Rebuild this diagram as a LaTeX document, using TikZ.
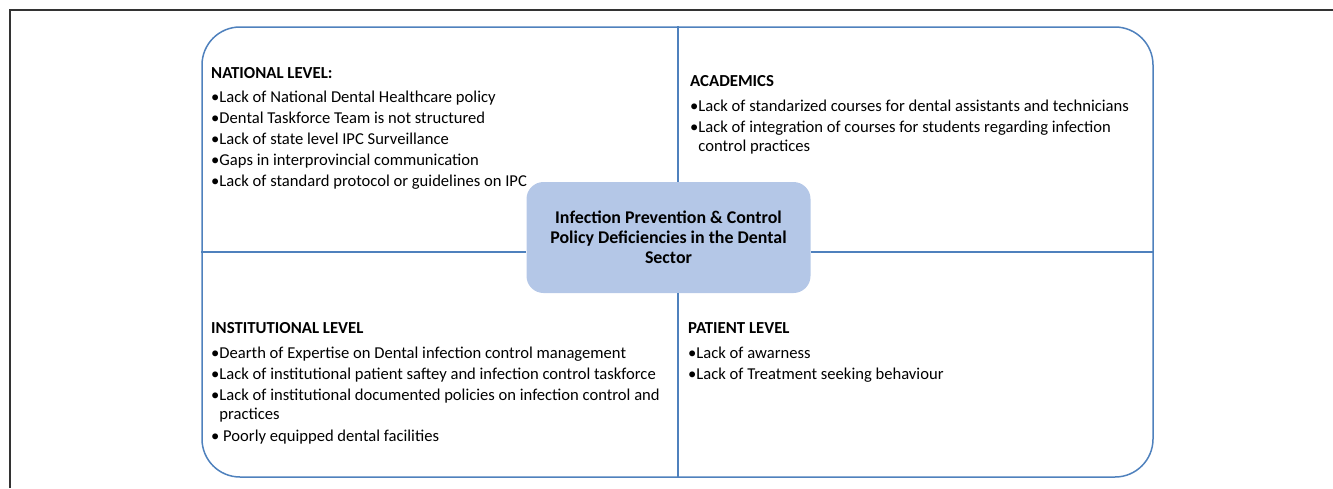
\documentclass[tikz,border=0pt]{standalone}
\usepackage{fontspec}
\setmainfont{Carlito}
\definecolor{frameblue}{HTML}{4F81BD}
\definecolor{hubfill}{HTML}{B4C7E7}
\tikzset{
  head/.style={anchor=base west, inner sep=0pt, font=\fontsize{16.8}{19}\selectfont\bfseries},
  item/.style={anchor=base west, inner sep=0pt, font=\fontsize{16.6}{19}\selectfont},
  divider/.style={frameblue, line width=1.2pt},
  hub/.style={fill=hubfill, rounded corners=17pt, minimum width=284pt, minimum height=111pt,
    align=center, inner sep=0pt, font=\fontsize{17.9}{20}\selectfont\bfseries}
}
\begin{document}
\begin{tikzpicture}[x=1pt,y=-1pt]
    \useasboundingbox (0,0) rectangle (1333,488);
    \draw[line width=1.5pt, black!80] (10,488) -- (10,10) -- (1333,10);
    \node[draw=frameblue, line width=1.5pt, rounded corners=38pt, minimum width=951pt, minimum height=450pt] (frame) at (677.5,252) {};

    \node[hub] (hub) at (668.5,237.5) {Infection Prevention \& Control\\Policy Deficiencies in the Dental\\Sector};
    \draw[divider] (frame.north -| 678,0) -- (hub.north -| 678,0);
    \draw[divider] (hub.south -| 678,0) -- (frame.south -| 678,0);
    \draw[divider] (frame.west |- 0,252) -- (hub.west |- 0,252);
    \draw[divider] (hub.east |- 0,252) -- (frame.east |- 0,252);

    % national level
    \node[head] (nat) at (211,78) {NATIONAL LEVEL:};
    \node[item] (nat1) at (211,102) {•Lack of National Dental Healthcare policy};
    \node[item] (nat2) at (211,123) {•Dental Taskforce Team is not structured};
    \node[item] (nat3) at (211,144) {•Lack of state level IPC Surveillance};
    \node[item] (nat4) at (211,165) {•Gaps in interprovincial communication};
    \node[item] (nat5) at (211,186) {•Lack of standard protocol or guidelines on IPC};

    % academics
    \node[head] (aca) at (690,86) {ACADEMICS};
    \node[item] (aca1) at (690,111) {•Lack of standarized courses for dental assistants and technicians};
    \node[item] (aca2) at (690,132) {•Lack of integration of courses for students regarding infection};
    \node[item] (aca3) at (690,151) {\phantom{•}control practices};

    % institutional level
    \node[head] (ins) at (211,333) {INSTITUTIONAL LEVEL};
    \node[item] (ins1) at (211,358) {•Dearth of Expertise on Dental infection control management};
    \node[item] (ins2) at (211,379) {•Lack of institutional patient saftey and infection control taskforce};
    \node[item] (ins3) at (211,400) {•Lack of institutional documented policies on infection control and};
    \node[item] (ins4) at (211,419) {\phantom{•}practices};
    \node[item] (ins5) at (211,441) {• Poorly equipped dental facilities};

    % patient level
    \node[head] (pat) at (688,333) {PATIENT LEVEL};
    \node[item] (pat1) at (688,358) {•Lack of awarness};
    \node[item] (pat2) at (688,379) {•Lack of Treatment seeking behaviour};
\end{tikzpicture}
\end{document}
